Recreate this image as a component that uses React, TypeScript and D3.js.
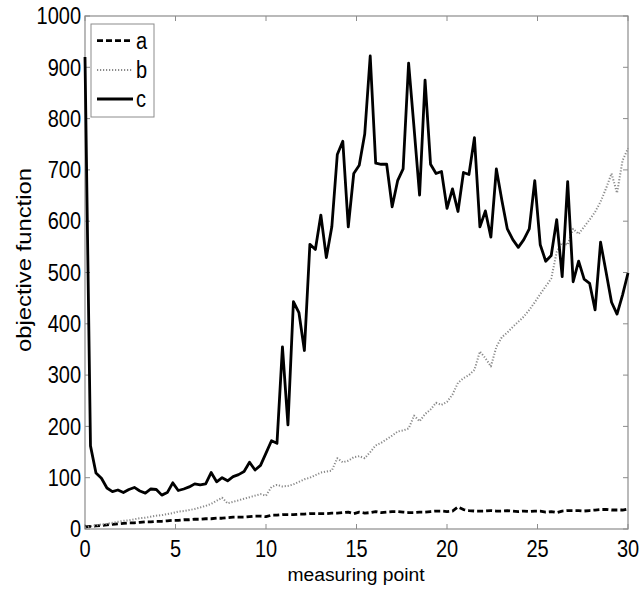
import React from "react";
import * as d3 from "d3";

// Objective function values for each method, sampled at 100 measuring points on [0, 30]
const POINT_COUNT = 100;
const X_MAX = 30;

const seriesA: number[] = [
  4, 5, 6, 7, 8, 9, 10, 11, 12, 12,
  13, 14, 14, 15, 15, 16, 17, 17, 18, 18,
  19, 19, 20, 20, 21, 21, 22, 23, 23, 23,
  24, 25, 25, 24, 27, 27, 28, 28, 28, 29,
  29, 30, 30, 30, 30, 31, 31, 32, 33, 30,
  33, 31, 32, 34, 32, 33, 34, 34, 33, 32,
  32, 33, 33, 34, 35, 35, 34, 35, 43, 38,
  36, 35, 35, 35, 36, 35, 35, 36, 35, 34,
  35, 34, 35, 35, 33, 34, 32, 35, 36, 36,
  36, 35, 36, 37, 38, 38, 37, 37, 37, 39,
];

const seriesB: number[] = [
  3, 5, 7, 9, 10, 12, 14, 16, 17, 19,
  21, 22, 24, 26, 27, 29, 31, 34, 35, 37,
  39, 42, 45, 49, 55, 61, 50, 53, 56, 59,
  62, 65, 68, 65, 82, 86, 83, 84, 87, 92,
  97, 100, 105, 110, 112, 114, 138, 130, 133, 140,
  142, 138, 150, 163, 168, 175, 182, 190, 192, 196,
  221, 210, 224, 233, 246, 242, 248, 262, 285, 294,
  300, 310, 346, 333, 317, 355, 374, 383, 394, 404,
  414, 427, 442, 458, 473, 488, 540, 558, 554, 585,
  575, 589, 603, 618, 638, 664, 693, 655, 718, 742,
];

const seriesC: number[] = [
  920, 162, 109, 99, 80, 73, 76, 71, 77, 81,
  74, 70, 78, 77, 66, 71, 90, 75, 78, 82,
  88, 86, 88, 110, 92, 100, 94, 102, 106, 112,
  130, 115, 124, 148, 172, 167, 355, 203, 443, 422,
  348, 555, 545, 612, 529, 589, 730, 756, 589, 693,
  709, 770, 922, 713, 711, 711, 628, 679, 702, 908,
  781, 651, 875, 711, 693, 697, 625, 663, 619, 695,
  691, 763, 589, 620, 569, 702, 641, 585, 564, 549,
  564, 585, 679, 554, 522, 533, 603, 492, 677, 482,
  522, 487, 479, 427, 559, 501, 442, 419, 456, 499,
];

const seriesNames = ["a", "b", "c"];
const xTicks = [0, 5, 10, 15, 20, 25, 30];
const yTicks = [0, 100, 200, 300, 400, 500, 600, 700, 800, 900, 1000];

const W = 639;
const H = 594;
const left = 85;
const right = 628;
const top = 16;
const bottom = 529;
const axisColor = "#8c8c8c";
const font = "'Liberation Sans', Arial, sans-serif";
const tickLen = 5;
const stretch = 1.15; // tick and legend text is drawn slightly taller than wide

const styles = [
  { stroke: "#000", width: 2.8, dash: "6 3" },
  { stroke: "#8a8a8a", width: 2, dash: "1.2 1.8" },
  { stroke: "#000", width: 2.8, dash: "" },
];

function Label(props: {
  x: number;
  y: number;
  anchor?: "start" | "middle" | "end";
  dy?: string;
  size?: number;
  children: React.ReactNode;
}) {
  const { x, y, anchor = "start", dy, size = 20, children } = props;
  return (
    <text
      transform={`translate(${x},${y}) scale(1,${stretch})`}
      dy={dy}
      fontSize={size}
      textAnchor={anchor}
      fill="#000"
    >
      {children}
    </text>
  );
}

export default function App() {
  const x = d3.scaleLinear().domain([0, X_MAX]).range([left, right]);
  const y = d3.scaleLinear().domain([0, 1000]).range([bottom, top]);
  const xs = d3.range(POINT_COUNT).map((i) => (i * X_MAX) / (POINT_COUNT - 1));
  const line = d3
    .line<number>()
    .x((_, i) => x(xs[i]))
    .y((v) => y(v));
  const data = [seriesA, seriesB, seriesC];

  const legendX = 91;
  const legendY = 24;
  const legendW = 63;
  const legendH = 93;
  const rowY = [40.7, 70, 99];

  return (
    <svg
      width={W}
      height={H}
      style={{ position: "absolute", left: 0, top: 0, background: "#fff" }}
      fontFamily={font}
    >
      <rect x={0} y={0} width={W} height={H} fill="#fff" />

      {/* axes box */}
      <rect
        x={left}
        y={top}
        width={right - left}
        height={bottom - top}
        fill="none"
        stroke={axisColor}
        strokeWidth={1.2}
      />

      {/* x ticks */}
      {xTicks.map((t) => (
        <g key={"x" + t}>
          <line x1={x(t)} x2={x(t)} y1={bottom} y2={bottom - tickLen} stroke={axisColor} />
          <line x1={x(t)} x2={x(t)} y1={top} y2={top + tickLen} stroke={axisColor} />
          <Label x={x(t)} y={557} anchor="middle">
            {t}
          </Label>
        </g>
      ))}

      {/* y ticks */}
      {yTicks.map((t) => (
        <g key={"y" + t}>
          <line x1={left} x2={left + tickLen} y1={y(t)} y2={y(t)} stroke={axisColor} />
          <line x1={right} x2={right - tickLen} y1={y(t)} y2={y(t)} stroke={axisColor} />
          <Label x={81} y={y(t)} dy="0.36em" anchor="end">
            {t}
          </Label>
        </g>
      ))}

      {/* series */}
      <g>
        {data.map((d, k) => (
          <path
            key={seriesNames[k]}
            d={line(d) || ""}
            fill="none"
            stroke={styles[k].stroke}
            strokeWidth={styles[k].width}
            strokeDasharray={styles[k].dash}
            strokeLinejoin="round"
          />
        ))}
      </g>

      {/* axis titles */}
      <text
        x={356}
        y={581}
        fontSize={18}
        textAnchor="middle"
        textLength={137}
        lengthAdjust="spacingAndGlyphs"
        fill="#000"
      >
        measuring point
      </text>
      <text
        transform={`translate(31, 260) rotate(-90)`}
        fontSize={20}
        textAnchor="middle"
        textLength={184}
        lengthAdjust="spacingAndGlyphs"
        fill="#000"
      >
        objective function
      </text>

      {/* legend */}
      <rect
        x={legendX}
        y={legendY}
        width={legendW}
        height={legendH}
        fill="#fff"
        stroke={axisColor}
        strokeWidth={1}
      />
      {seriesNames.map((name, k) => (
        <g key={"lg" + name}>
          <line
            x1={97}
            x2={133}
            y1={rowY[k]}
            y2={rowY[k]}
            stroke={styles[k].stroke}
            strokeWidth={styles[k].width}
            strokeDasharray={styles[k].dash}
          />
          <Label x={136} y={rowY[k]} dy="0.36em">
            {name}
          </Label>
        </g>
      ))}
    </svg>
  );
}
